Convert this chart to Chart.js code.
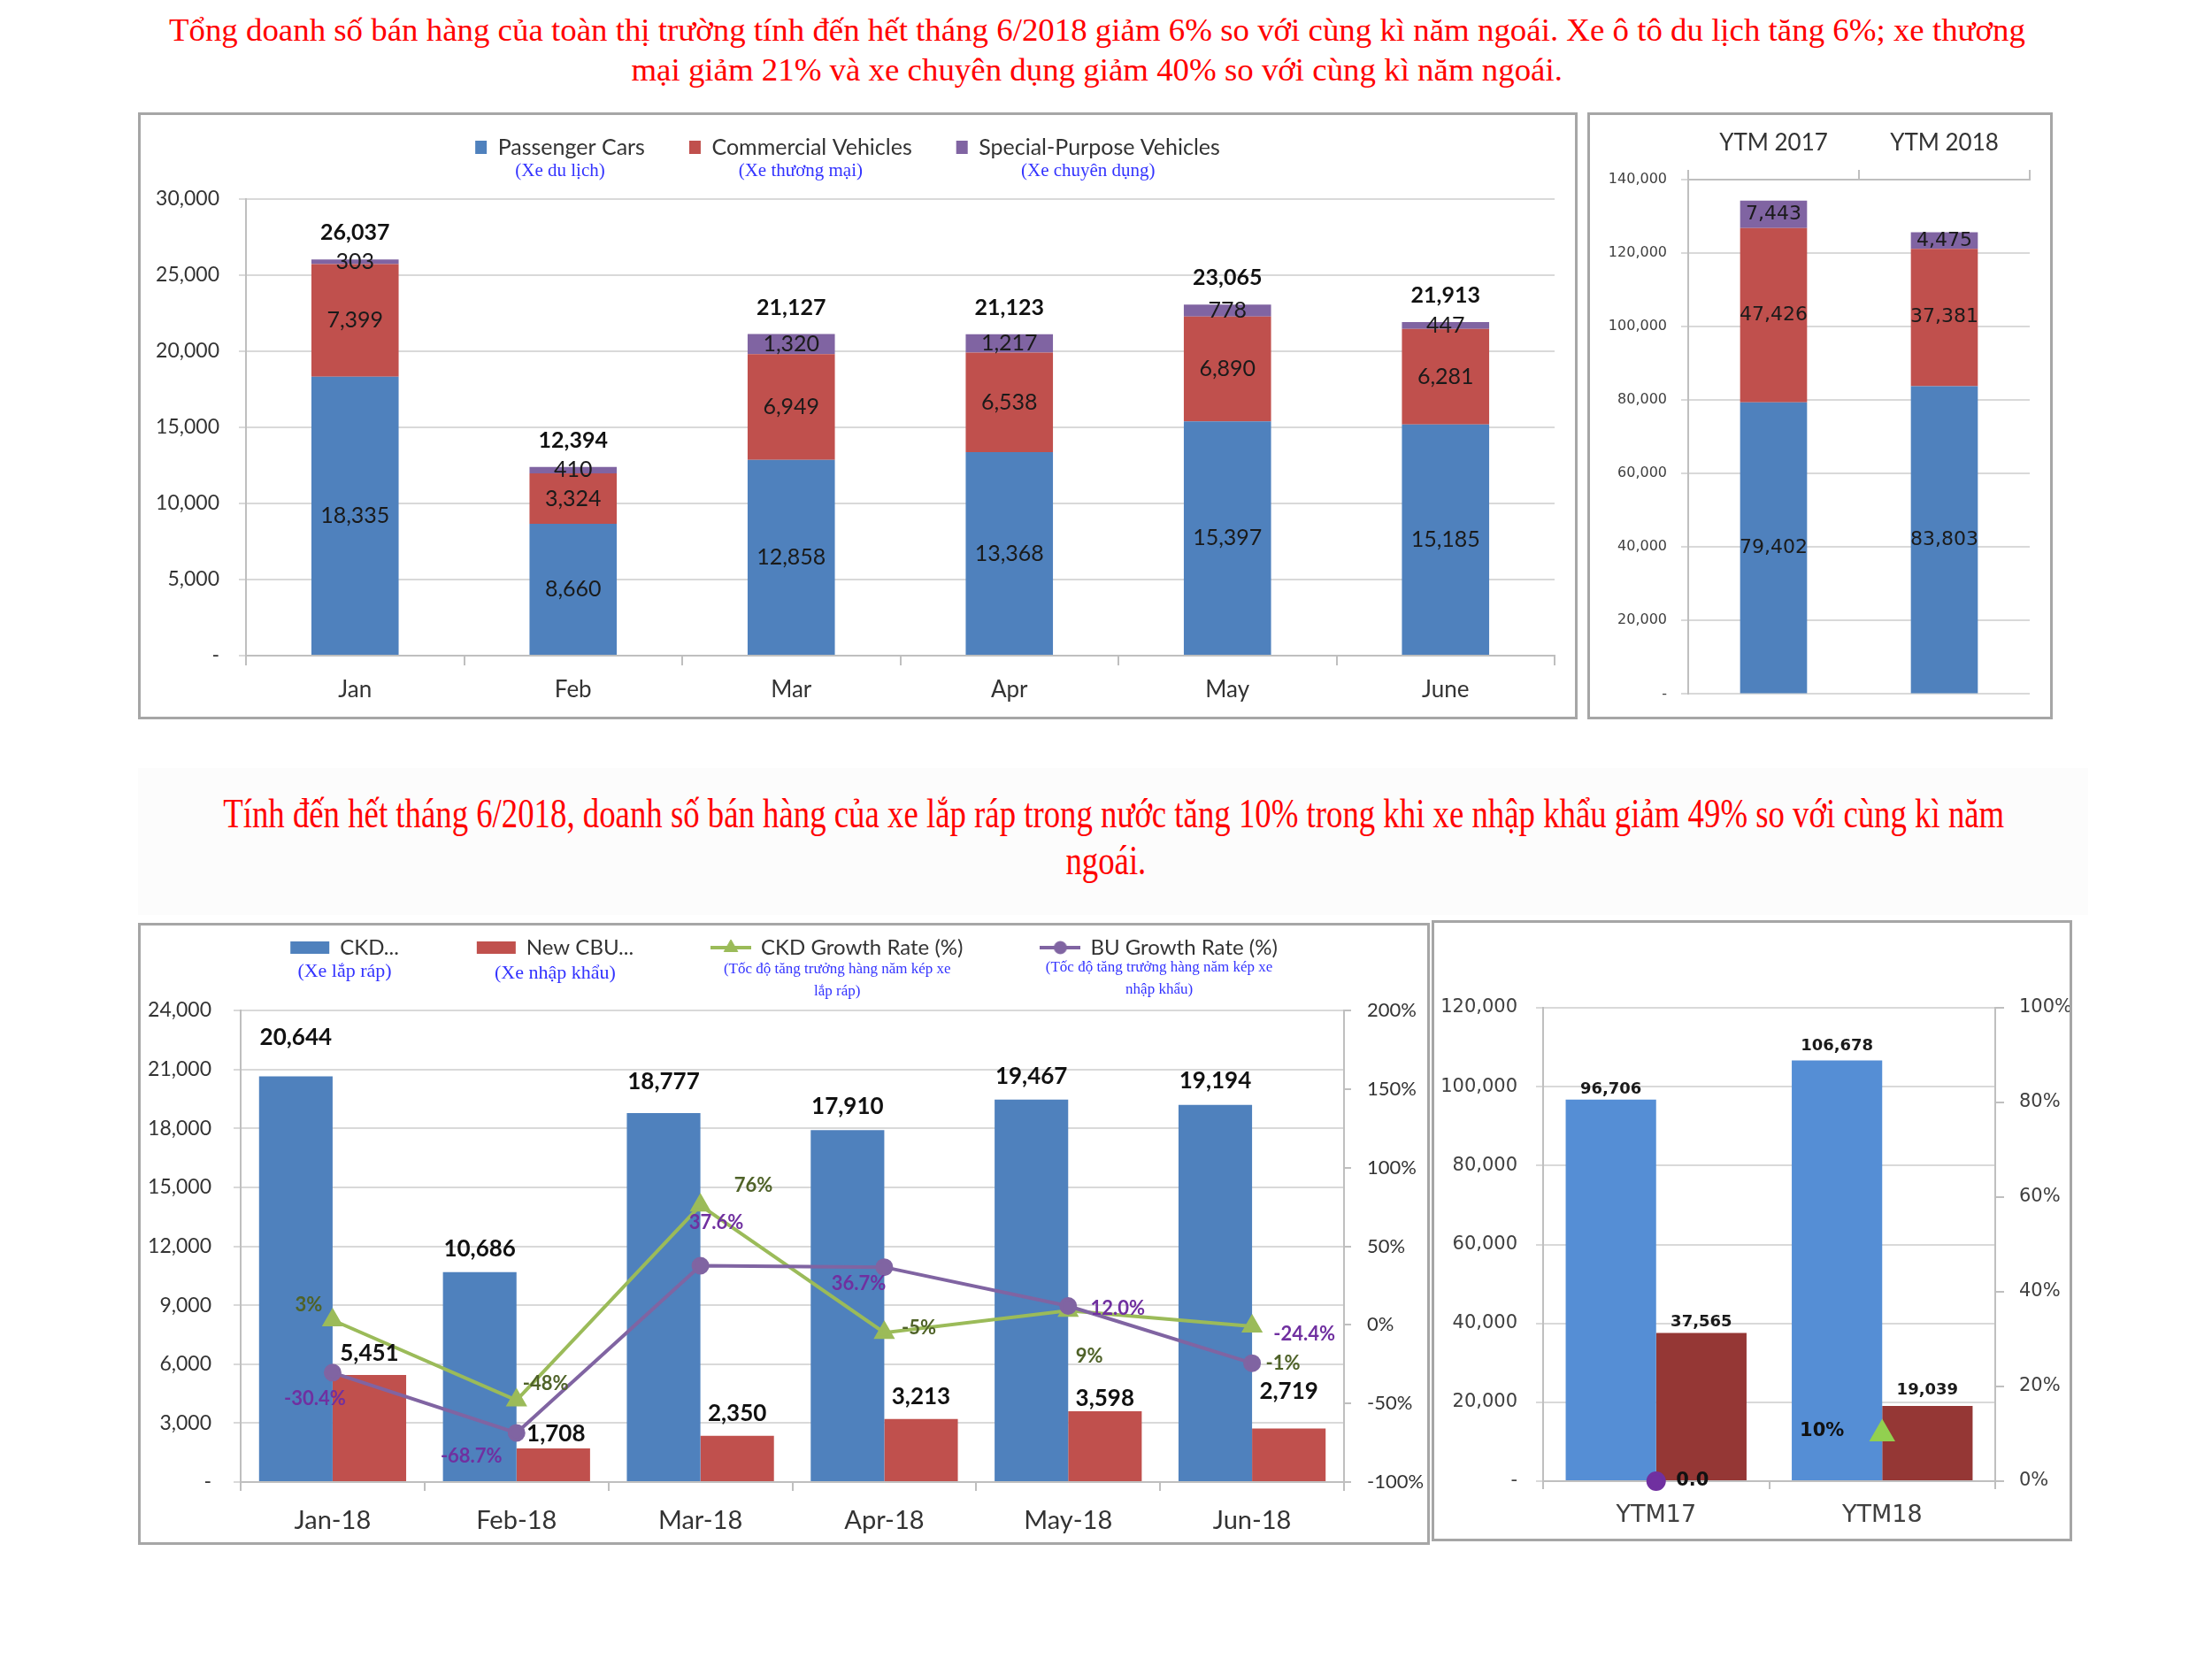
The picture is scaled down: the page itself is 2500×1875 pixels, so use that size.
<!DOCTYPE html>
<html>
<head>
<meta charset="utf-8">
<script src="https://cdn.jsdelivr.net/npm/chart.js@4.4.0/dist/chart.umd.min.js"></script>
<style>
  body { margin: 0; width: 2500px; height: 1875px; background: #fff; position: relative; overflow: hidden; }
  .box { position: absolute; border: 3px solid #a6a6a6; box-sizing: border-box; background: #fff; }
  .box canvas { display: block; }
  .ttl { position: absolute; left: 0; text-align: center; color: #f00; font-family: "Liberation Serif", serif; white-space: nowrap; }
  .ttl span { display: inline-block; transform-origin: 50% 50%; }
</style>
</head>
<body>
<div style="position:absolute;left:156px;top:868px;width:2204px;height:166px;background:#fcfcfc"></div>
<div class="ttl" style="top:14px;width:2480px;font-size:35px;line-height:42px"><span id="t1a">Tổng doanh số bán hàng của toàn thị trường tính đến hết tháng 6/2018 giảm 6% so với cùng kì năm ngoái. Xe ô tô du lịch tăng 6%; xe thương</span></div>
<div class="ttl" style="top:59px;width:2480px;font-size:35px;line-height:42px"><span id="t1b">mại giảm 21% và xe chuyên dụng giảm 40% so với cùng kì năm ngoái.</span></div>
<div class="ttl" style="top:893px;width:2500px;font-size:46px;line-height:54px"><span id="t2a">Tính đến hết tháng 6/2018, doanh số bán hàng của xe lắp ráp trong nước tăng 10% trong khi xe nhập khẩu giảm 49% so với cùng kì năm</span></div>
<div class="ttl" style="top:946px;width:2500px;font-size:46px;line-height:54px"><span id="t2b">ngoái.</span></div>

<div class="box" style="left:156px;top:127px;width:1627px;height:686px"><canvas id="cA" width="1621" height="680"></canvas></div>
<div class="box" style="left:1794px;top:127px;width:526px;height:686px"><canvas id="cB" width="520" height="680"></canvas></div>
<div class="box" style="left:156px;top:1043px;width:1460px;height:703px"><canvas id="cC" width="1454" height="697"></canvas></div>
<div class="box" style="left:1618px;top:1040px;width:724px;height:702px"><canvas id="cD" width="718" height="696"></canvas></div>

<script>
// --- data ---
const monthsA = ['Jan', 'Feb', 'Mar', 'Apr', 'May', 'June'];
const passengerCars = [18335, 8660, 12858, 13368, 15397, 15185];
const commercialVehicles = [7399, 3324, 6949, 6538, 6890, 6281];
const specialVehicles = [303, 410, 1320, 1217, 778, 447];

const ytdLabels = ['YTM 2017', 'YTM 2018'];
const ytdPassenger = [79402, 83803];
const ytdCommercial = [47426, 37381];
const ytdSpecial = [7443, 4475];

const monthsC = ['Jan-18', 'Feb-18', 'Mar-18', 'Apr-18', 'May-18', 'Jun-18'];
const ckdUnits = [20644, 10686, 18777, 17910, 19467, 19194];
const cbuUnits = [5451, 1708, 2350, 3213, 3598, 2719];
const ckdGrowth = [3, -48, 76, -5, 9, -1];
const buGrowth = [-30.4, -68.7, 37.6, 36.7, 12.0, -24.4];

const ytmLabels = ['YTM17', 'YTM18'];
const ytmCkd = [96706, 106678];
const ytmCbu = [37565, 19039];
const ytmCkdGrowth = [null, 10];
const ytmBuGrowth = [0, null];

// --- titles: stretch to the width they take in the picture ---
function fitTitle(ids, target) {
  const w = document.getElementById(ids[0]).getBoundingClientRect().width;
  ids.forEach(id => { document.getElementById(id).style.transform = 'scaleX(' + (target / w) + ')'; });
}
fitTitle(['t1a', 't1b'], 2098);
fitTitle(['t2a', 't2b'], 2013);

Chart.defaults.font.family = 'Lato, sans-serif';
Chart.defaults.color = '#333';
Chart.defaults.animation = false;
Chart.defaults.plugins.tooltip.enabled = false;

const fmt = v => v.toLocaleString('en-US');
const dashZero = v => v === 0 ? '-' : fmt(v);
const SERIF = '"Liberation Serif", serif';
const DJV = '"DejaVu Sans", sans-serif';

// fixed legend height so the plot sits where the picture has it
const legendSize = {
  id: 'legendSize',
  beforeLayout(chart, args, o) {
    const lg = chart.legend;
    if (!lg || !o.height || lg._fixed) return;
    const fit = lg.fit;
    lg.fit = function () { fit.call(this); this.height = o.height; };
    lg._fixed = true;
  }
};

// vietnamese notes under each legend item
const legendNotes = {
  id: 'legendNotes',
  afterDraw(chart, args, o) {
    if (!o.lines || !chart.legend || !chart.legend.legendHitBoxes) return;
    const ctx = chart.ctx;
    ctx.save();
    ctx.fillStyle = o.color;
    ctx.textAlign = 'center';
    ctx.textBaseline = 'middle';
    chart.legend.legendHitBoxes.forEach((b, i) => {
      ctx.font = o.fonts[i];
      (o.lines[i] || []).forEach((t, k) => {
        ctx.fillText(t, b.left + b.width / 2, b.top + b.height + o.gaps[i] + k * o.lineHeight);
      });
    });
    ctx.restore();
  }
};

// value labels on bars / points
const valueLabels = {
  id: 'valueLabels',
  afterDatasetsDraw(chart) {
    const ctx = chart.ctx;
    chart.data.datasets.forEach((ds, di) => {
      if (!ds.valueLabels) return;
      const meta = chart.getDatasetMeta(di);
      ds.valueLabels.forEach(lb => {
        ctx.save();
        ctx.font = lb.font;
        ctx.fillStyle = lb.color;
        ctx.textAlign = 'center';
        ctx.textBaseline = 'middle';
        meta.data.forEach((el, i) => {
          let v = ds.data[i];
          if (v === null || v === undefined) return;
          if (lb.total) v = chart.data.datasets.reduce((s, d) => s + d.data[i], 0);
          const dx = lb.dx ? lb.dx[i] : 0;
          const dy = Array.isArray(lb.dy) ? lb.dy[i] : (lb.dy || 0);
          const y = lb.at === 'middle' ? (el.y + el.base) / 2 : el.y;
          ctx.fillText(lb.text ? lb.text(v) : fmt(v), el.x + dx, y + dy);
        });
        ctx.restore();
      });
    });
  }
};

const plugins = [legendSize, legendNotes, valueLabels];
const gridLine = { color: '#d9d9d9', lineWidth: 2, tickLength: 8 };
const axisLine = { color: '#bfbfbf', width: 2 };

// ---------- monthly sales by segment ----------
const segLabel = { at: 'middle', font: '25px Lato', color: '#1a1a1a' };
new Chart(document.getElementById('cA'), {
  type: 'bar',
  data: {
    labels: monthsA,
    datasets: [
      { label: 'Passenger Cars', data: passengerCars, backgroundColor: '#4f81bd', valueLabels: [segLabel] },
      { label: 'Commercial Vehicles', data: commercialVehicles, backgroundColor: '#c0504d', valueLabels: [segLabel] },
      { label: 'Special-Purpose Vehicles', data: specialVehicles, backgroundColor: '#8064a2',
        valueLabels: [segLabel, { total: true, dy: -30, font: 'bold 25px Lato', color: '#111' }] }
    ]
  },
  options: {
    responsive: false,
    layout: { padding: { top: -26, right: 23, bottom: 0, left: 0 } },
    datasets: { bar: { categoryPercentage: 0.8, barPercentage: 0.5 } },
    scales: {
      x: {
        stacked: true,
        afterFit: s => { s.height = 69; },
        grid: { drawOnChartArea: false, tickLength: 11, color: '#bfbfbf', lineWidth: 2 },
        border: axisLine,
        ticks: { font: { size: 26 }, padding: 12 }
      },
      y: {
        stacked: true, min: 0, max: 30000,
        afterFit: s => { s.width = 119; },
        ticks: { stepSize: 5000, callback: dashZero, font: { size: 23 }, padding: 22 },
        grid: gridLine,
        border: axisLine
      }
    },
    plugins: {
      legend: { labels: { boxWidth: 13, boxHeight: 15, padding: 50, font: { size: 25 } } },
      legendSize: { height: 121 },
      legendNotes: {
        lines: [['(Xe du lịch)'], ['(Xe thương mại)'], ['(Xe chuyên dụng)']],
        fonts: ['21px ' + SERIF, '21px ' + SERIF, '21px ' + SERIF],
        gaps: [14, 14, 14], lineHeight: 20, color: '#3333ff'
      }
    }
  },
  plugins
});

// ---------- year to date by segment ----------
const ytdLabel = { at: 'middle', font: '22px ' + DJV, color: '#1a1a1a' };
new Chart(document.getElementById('cB'), {
  type: 'bar',
  data: {
    labels: ytdLabels,
    datasets: [
      { label: 'Passenger Cars', data: ytdPassenger, backgroundColor: '#4f81bd', valueLabels: [ytdLabel] },
      { label: 'Commercial Vehicles', data: ytdCommercial, backgroundColor: '#c0504d', valueLabels: [ytdLabel] },
      { label: 'Special-Purpose Vehicles', data: ytdSpecial, backgroundColor: '#8064a2', valueLabels: [ytdLabel] }
    ]
  },
  options: {
    responsive: false,
    layout: { padding: { top: 0, right: 23, bottom: 24, left: 0 } },
    datasets: { bar: { categoryPercentage: 0.8, barPercentage: 0.49 } },
    scales: {
      x: {
        position: 'top', stacked: true,
        afterFit: s => { s.height = 73; },
        grid: { drawOnChartArea: false, tickLength: 11, color: '#bfbfbf', lineWidth: 2 },
        border: axisLine,
        ticks: { font: { size: 26 }, padding: 15 }
      },
      y: {
        stacked: true, min: 0, max: 140000,
        afterFit: s => { s.width = 111; },
        ticks: { stepSize: 20000, callback: dashZero, font: { size: 16, family: DJV }, color: '#404040', padding: 16 },
        grid: gridLine,
        border: axisLine
      }
    },
    plugins: { legend: { display: false } }
  },
  plugins
});

// ---------- CKD / CBU monthly ----------
function lineIcon(style, color, radius) {
  const c = document.createElement('canvas');
  c.width = 46; c.height = 22;
  const g = c.getContext('2d');
  g.strokeStyle = color; g.lineWidth = 4;
  g.beginPath(); g.moveTo(0, 11); g.lineTo(46, 11); g.stroke();
  g.fillStyle = color; g.strokeStyle = color; g.lineWidth = 1;
  Chart.helpers.drawPoint(g, { pointStyle: style, radius: radius, rotation: 0, borderWidth: 1 }, 23, 11);
  return c;
}

new Chart(document.getElementById('cC'), {
  type: 'bar',
  data: {
    labels: monthsC,
    datasets: [
      { label: 'CKD...', data: ckdUnits, backgroundColor: '#4f81bd', yAxisID: 'y', order: 2,
        valueLabels: [{ dy: [-44, -26, -35, -27, -26, -27], font: 'bold 26px Lato', color: '#111' }] },
      { label: 'New CBU...', data: cbuUnits, backgroundColor: '#c0504d', yAxisID: 'y', order: 2,
        valueLabels: [{ dy: [-24, -16, -25, -25, -14, -42], dx: [0, 3, 0, 0, 0, 0], font: 'bold 26px Lato', color: '#111' }] },
      { type: 'line', label: 'CKD Growth Rate (%)', data: ckdGrowth, yAxisID: 'y1', order: 1,
        borderColor: '#9bbb59', backgroundColor: '#9bbb59', borderWidth: 4,
        pointStyle: 'triangle', pointRadius: 10, pointBackgroundColor: '#9bbb59', pointBorderColor: '#9bbb59', clip: false,
        valueLabels: [{ dx: [-27, 33, 60, 39, 24, 35], dy: [-17, -19, -22, -5, 52, 42], text: v => v + '%', font: 'bold 22px Lato', color: '#4f6228' }] },
      { type: 'line', label: 'BU Growth Rate (%)', data: buGrowth, yAxisID: 'y1', order: 0,
        borderColor: '#8064a2', backgroundColor: '#8064a2', borderWidth: 4,
        pointStyle: 'circle', pointRadius: 8, pointBackgroundColor: '#8064a2', pointBorderColor: '#8064a2', clip: false,
        valueLabels: [{ dx: [-20, -51, 18, -29, 56, 59], dy: [30, 27, -49, 19, 3, -33], text: v => v.toFixed(1) + '%', font: 'bold 22px Lato', color: '#7030a0' }] }
    ]
  },
  options: {
    responsive: false,
    layout: { padding: { top: -75, right: 0, bottom: 0, left: 0 } },
    datasets: { bar: { categoryPercentage: 0.8, barPercentage: 1.0 } },
    scales: {
      x: {
        afterFit: s => { s.height = 68; },
        grid: { drawOnChartArea: false, tickLength: 10, color: '#bfbfbf', lineWidth: 2 },
        border: axisLine,
        ticks: { font: { size: 29 }, padding: 16 }
      },
      y: {
        min: 0, max: 24000,
        afterFit: s => { s.width = 113; },
        ticks: { stepSize: 3000, callback: dashZero, font: { size: 23 }, padding: 25 },
        grid: gridLine,
        border: axisLine
      },
      y1: {
        position: 'right', min: -100, max: 200,
        afterFit: s => { s.width = 94; },
        ticks: { stepSize: 50, callback: v => v + '%', font: { size: 22 }, padding: 18 },
        grid: { drawOnChartArea: false, tickLength: 8, color: '#bfbfbf', lineWidth: 2 },
        border: axisLine
      }
    },
    plugins: {
      legend: {
        labels: {
          usePointStyle: true, pointStyleWidth: 44, boxHeight: 14, padding: 88, font: { size: 24 },
          sort: (a, b) => a.datasetIndex - b.datasetIndex,
          generateLabels(chart) {
            const items = Chart.defaults.plugins.legend.labels.generateLabels(chart);
            items.forEach(it => {
              const ds = chart.data.datasets[it.datasetIndex];
              it.pointStyle = ds.type === 'line' ? lineIcon(ds.pointStyle, ds.borderColor, ds.pointStyle === 'triangle' ? 9 : 7) : 'rect';
              it.lineWidth = 0;
            });
            return items;
          }
        }
      },
      legendSize: { height: 171 },
      legendNotes: {
        lines: [['(Xe lắp ráp)'], ['(Xe nhập khẩu)'],
                ['(Tốc độ tăng trưởng hàng năm kép xe', 'lắp ráp)'],
                ['(Tốc độ tăng trưởng hàng năm kép xe', 'nhập khẩu)']],
        fonts: ['22px ' + SERIF, '22px ' + SERIF, '17px ' + SERIF, '17px ' + SERIF],
        gaps: [15, 17, 13, 11], lineHeight: 25, color: '#3333ff'
      }
    }
  },
  plugins
});

// ---------- CKD / CBU year to date ----------
new Chart(document.getElementById('cD'), {
  type: 'bar',
  data: {
    labels: ytmLabels,
    datasets: [
      { label: 'CKD', data: ytmCkd, backgroundColor: '#558ed5', yAxisID: 'y', order: 2,
        valueLabels: [{ dy: [-12, -16], font: 'bold 18px ' + DJV, color: '#1a1a1a' }] },
      { label: 'CBU', data: ytmCbu, backgroundColor: '#953735', yAxisID: 'y', order: 2,
        valueLabels: [{ dy: [-12, -18], font: 'bold 18px ' + DJV, color: '#1a1a1a' }] },
      { type: 'line', label: 'CKD Growth Rate (%)', data: ytmCkdGrowth, yAxisID: 'y1', order: 1,
        borderColor: '#92d050', backgroundColor: '#92d050', borderWidth: 4,
        pointStyle: 'triangle', pointRadius: 13, pointBackgroundColor: '#92d050', pointBorderColor: '#92d050', clip: false,
        valueLabels: [{ dx: [0, -68], dy: [0, -3], text: v => v + '%', font: 'bold 21px ' + DJV, color: '#111' }] },
      { type: 'line', label: 'BU Growth Rate (%)', data: ytmBuGrowth, yAxisID: 'y1', order: 0,
        borderColor: '#7030a0', backgroundColor: '#7030a0', borderWidth: 4,
        pointStyle: 'circle', pointRadius: 9, pointBackgroundColor: '#7030a0', pointBorderColor: '#7030a0', clip: false,
        valueLabels: [{ dx: [41, 0], dy: [0, 0], text: v => v.toFixed(1), font: 'bold 21px ' + DJV, color: '#111' }] }
    ]
  },
  options: {
    responsive: false,
    layout: { padding: { top: 96, right: 0, bottom: 0, left: 0 } },
    datasets: { bar: { categoryPercentage: 0.8, barPercentage: 1.0 } },
    scales: {
      x: {
        afterFit: s => { s.height = 65; },
        grid: { drawOnChartArea: false, tickLength: 9, color: '#bfbfbf', lineWidth: 2 },
        border: axisLine,
        ticks: { font: { size: 27, family: DJV }, color: '#404040', padding: 14 }
      },
      y: {
        min: 0, max: 120000,
        afterFit: s => { s.width = 123; },
        ticks: { stepSize: 20000, callback: dashZero, font: { size: 21, family: DJV }, color: '#404040', padding: 21 },
        grid: gridLine,
        border: axisLine
      },
      y1: {
        position: 'right', min: 0, max: 100,
        afterFit: s => { s.width = 84; },
        ticks: { stepSize: 20, callback: v => v + '%', font: { size: 21, family: DJV }, color: '#404040', padding: 17 },
        grid: { drawOnChartArea: false, tickLength: 10, color: '#bfbfbf', lineWidth: 2 },
        border: axisLine
      }
    },
    plugins: { legend: { display: false } }
  },
  plugins
});
</script>
</body>
</html>
